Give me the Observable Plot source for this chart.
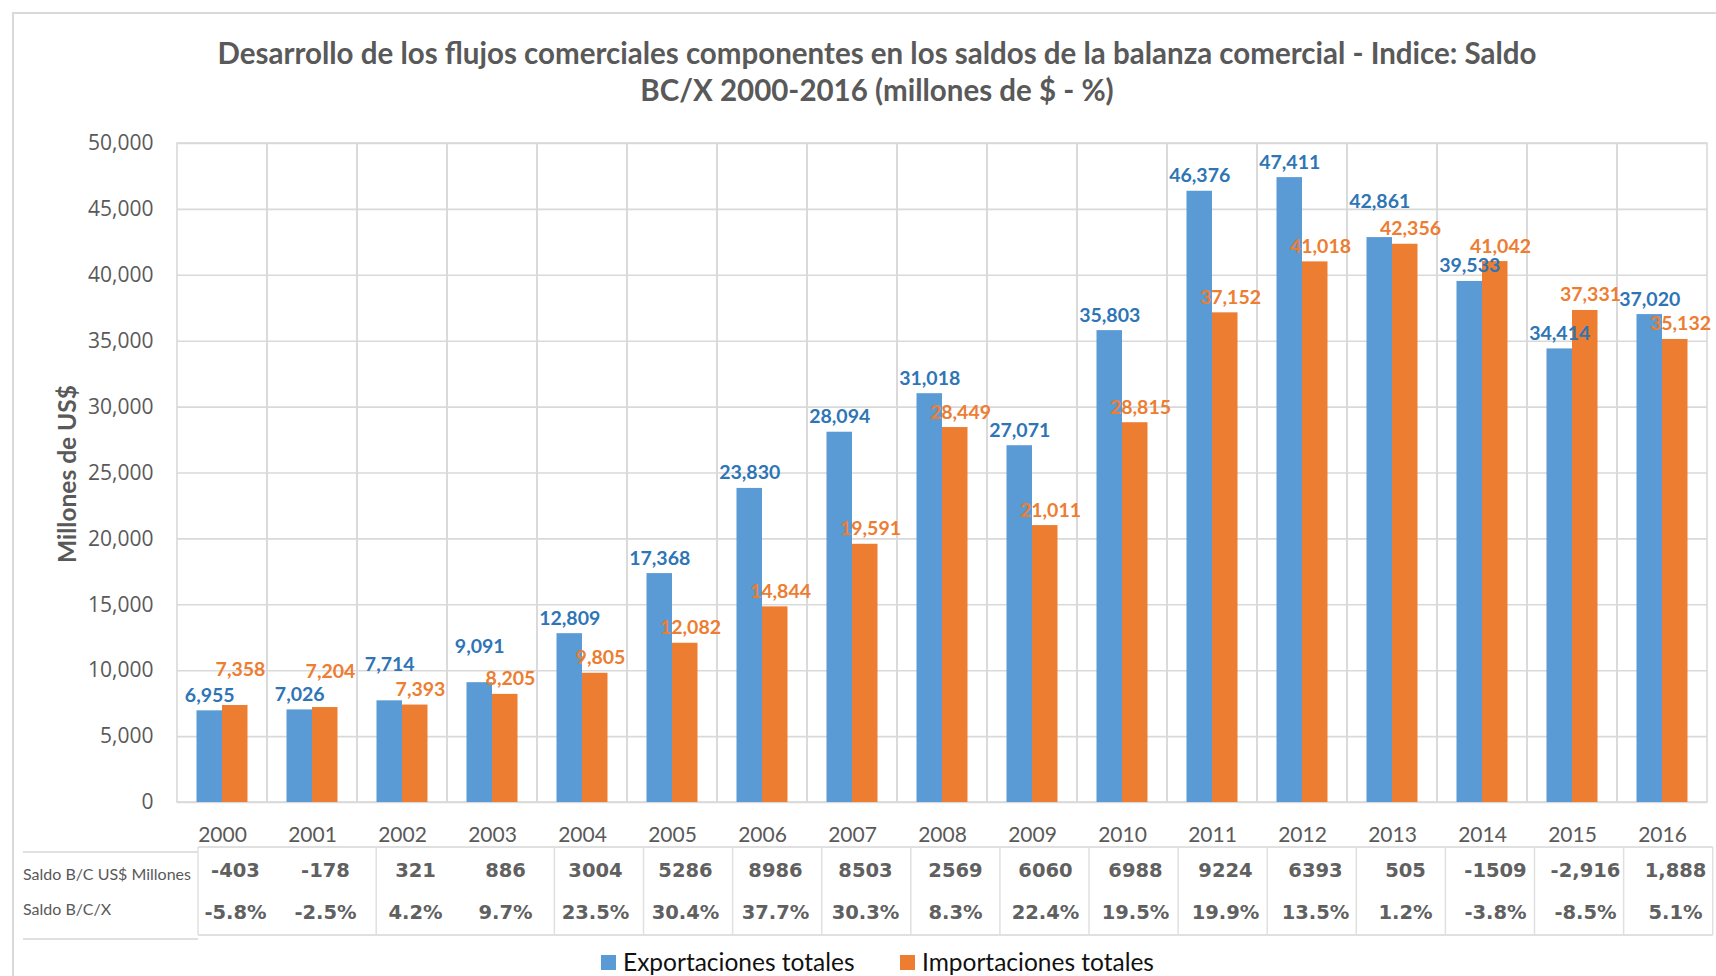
<!DOCTYPE html>
<html><head><meta charset="utf-8">
<script src="https://cdn.jsdelivr.net/npm/d3@7"></script>
<script src="https://cdn.jsdelivr.net/npm/@observablehq/plot@0.6"></script>
<style>
body{margin:0;background:#fff;width:1716px;height:976px;overflow:hidden;position:relative;font-family:Lato,sans-serif;}
#border{position:absolute;left:12px;top:12px;width:1720px;height:980px;border-left:2px solid #d9d9d9;border-top:2px solid #d9d9d9;}
#title{position:absolute;top:34px;left:0;width:1754px;text-align:center;font-family:Lato;font-weight:700;font-size:29.5px;line-height:37px;color:#595959;}
#chart{position:absolute;top:120px;left:0;}
.leg{position:absolute;top:949px;font-family:Lato;font-size:24.5px;color:#111;display:flex;align-items:center;line-height:26px;}
.sw{width:15px;height:15px;margin-right:7px;}
</style></head><body>
<div id="border"></div>
<div id="title">Desarrollo de los flujos comerciales componentes en los saldos de la balanza comercial - Indice: Saldo<br>BC/X 2000-2016 (millones de $ - %)</div>
<div id="chart"></div>
<div class="leg" style="left:601px"><div class="sw" style="background:#5B9BD5"></div>Exportaciones totales</div>
<div class="leg" style="left:900px"><div class="sw" style="background:#ED7D31"></div>Importaciones totales</div>
<script>
const years = ["2000","2001","2002","2003","2004","2005","2006","2007","2008","2009","2010","2011","2012","2013","2014","2015","2016"];
const exportaciones = [6955,7026,7714,9091,12809,17368,23830,28094,31018,27071,35803,46376,47411,42861,39533,34414,37020];
const importaciones = [7358,7204,7393,8205,9805,12082,14844,19591,28449,21011,28815,37152,41018,42356,41042,37331,35132];
const saldoMillones = ["-403","-178","321","886","3004","5286","8986","8503","2569","6060","6988","9224","6393","505","-1509","-2,916","1,888"];
const saldoPct = ["-5.8%","-2.5%","4.2%","9.7%","23.5%","30.4%","37.7%","30.3%","8.3%","22.4%","19.5%","19.9%","13.5%","1.2%","-3.8%","-8.5%","5.1%"];
const yTicks = [0,5000,10000,15000,20000,25000,30000,35000,40000,45000,50000];
const rowLabels = ["Saldo B/C US$ Millones","Saldo B/C/X"];
const seriesNames = ["Exportaciones totales","Importaciones totales"];

const blue = "#5B9BD5", orange = "#ED7D31", blueLabel = "#2E75B6";
const exp = years.map((y,i)=>({year:y, value:exportaciones[i], other:importaciones[i]}));
const imp = years.map((y,i)=>({year:y, value:importaciones[i], other:exportaciones[i]}));
const table = years.map((y,i)=>({year:y, m:saldoMillones[i], p:saldoPct[i]}));
const fmt = d3.format(",");
const gridColor = "#d9d9d9";
// a label is lifted when its bar is the taller of a close pair, so both labels stay readable
const lifted = d => Math.abs(d.value - d.other) < 1400 && d.value > d.other;

const labelOpts = {x: "year", y: "value", text: d => fmt(d.value), lineAnchor: "bottom", fontWeight: "bold", fontSize: 19.5};

const plot = Plot.plot({
  width: 1716, height: 825,
  marginLeft: 177, marginRight: 9, marginTop: 23, marginBottom: 143,
  style: {fontFamily: "Lato", fontSize: "21px", color: "#595959", background: "transparent", overflow: "visible"},
  x: {domain: years, padding: 0, tickSize: 0, tickPadding: 25, label: null},
  y: {domain: [0, 50000], ticks: yTicks, tickFormat: fmt, tickSize: 0, tickPadding: 24, label: null},
  marks: [
    Plot.ruleY(yTicks, {stroke: gridColor, strokeWidth: 1.6}),
    Plot.cell(years, {x: d => d, fill: "none", stroke: gridColor, strokeWidth: 1.6}),
    Plot.barY(exp, {x: "year", y: "value", fill: blue, insetLeft: 19.5, insetRight: 45}),
    Plot.barY(imp, {x: "year", y: "value", fill: orange, insetLeft: 45, insetRight: 19.5}),
    Plot.text(exp, {...labelOpts, filter: d => !lifted(d), dx: -12.75, dy: -9, fill: blueLabel}),
    Plot.text(exp, {...labelOpts, filter: lifted, dx: -12.75, dy: -30, fill: blueLabel}),
    Plot.text(imp, {...labelOpts, filter: d => !lifted(d), dx: 18, dy: -9, fill: orange}),
    Plot.text(imp, {...labelOpts, filter: lifted, dx: 18, dy: -30, fill: orange}),
    Plot.text(table, {x: "year", text: "m", frameAnchor: "bottom", dy: 68, dx: 13, lineAnchor: "middle", fill: "#606060", fontFamily: "DejaVu Sans", fontWeight: "bold", fontSize: 19.5}),
    Plot.text(table, {x: "year", text: "p", frameAnchor: "bottom", dy: 110, dx: 13, lineAnchor: "middle", fill: "#606060", fontFamily: "DejaVu Sans", fontWeight: "bold", fontSize: 19.5})
  ]
});
document.getElementById("chart").appendChild(plot);

const svg = d3.select(plot);
svg.selectAll('[aria-label^="y-axis"] text').attr("font-family", "Open Sans").attr("font-size", 21);

svg.append("text").attr("transform", "translate(66,354) rotate(-90)")
  .attr("text-anchor", "middle").attr("dominant-baseline", "central")
  .attr("font-family", "Lato").attr("font-weight", "bold").attr("font-size", 24.5).attr("fill", "#595959")
  .text("Millones de US$");

const sx = plot.scale("x");
const x0 = sx.range[0], n = sx.domain.length, step = (sx.range[1] - sx.range[0]) / n;
const tLeft = x0 + 21, tScale = 0.99;
const tx = bx => tLeft + (bx - x0) * tScale;
const tTop = 727, tBot = 815;
const g = svg.append("g").attr("stroke", "#d6d6d6").attr("stroke-width", 1.5);
g.append("line").attr("x1", tx(x0)).attr("x2", tx(x0 + n*step)).attr("y1", tTop).attr("y2", tTop);
g.append("line").attr("x1", tx(x0)).attr("x2", tx(x0 + n*step)).attr("y1", tBot).attr("y2", tBot);
g.append("line").attr("x1", 23).attr("x2", tx(x0)).attr("y1", tTop + 5).attr("y2", tTop + 5);
g.append("line").attr("x1", 23).attr("x2", tx(x0)).attr("y1", tBot + 4).attr("y2", tBot + 4);
for (let i = 0; i <= n; i++) {
  if (years[i] === "2001" || years[i] === "2003") continue;
  const bx = tx(x0 + i*step);
  g.append("line").attr("x1", bx).attr("x2", bx).attr("y1", tTop).attr("y2", tBot).attr("stroke", "#e0e0e0");
}
rowLabels.forEach((t, i) => {
  svg.append("text").attr("x", 23).attr("y", i === 0 ? 753 : 788).attr("dominant-baseline", "central")
    .attr("text-anchor", "start")
    .attr("font-family", "Lato").attr("font-size", 16).attr("fill", "#595959").text(t);
});
</script>
</body></html>
